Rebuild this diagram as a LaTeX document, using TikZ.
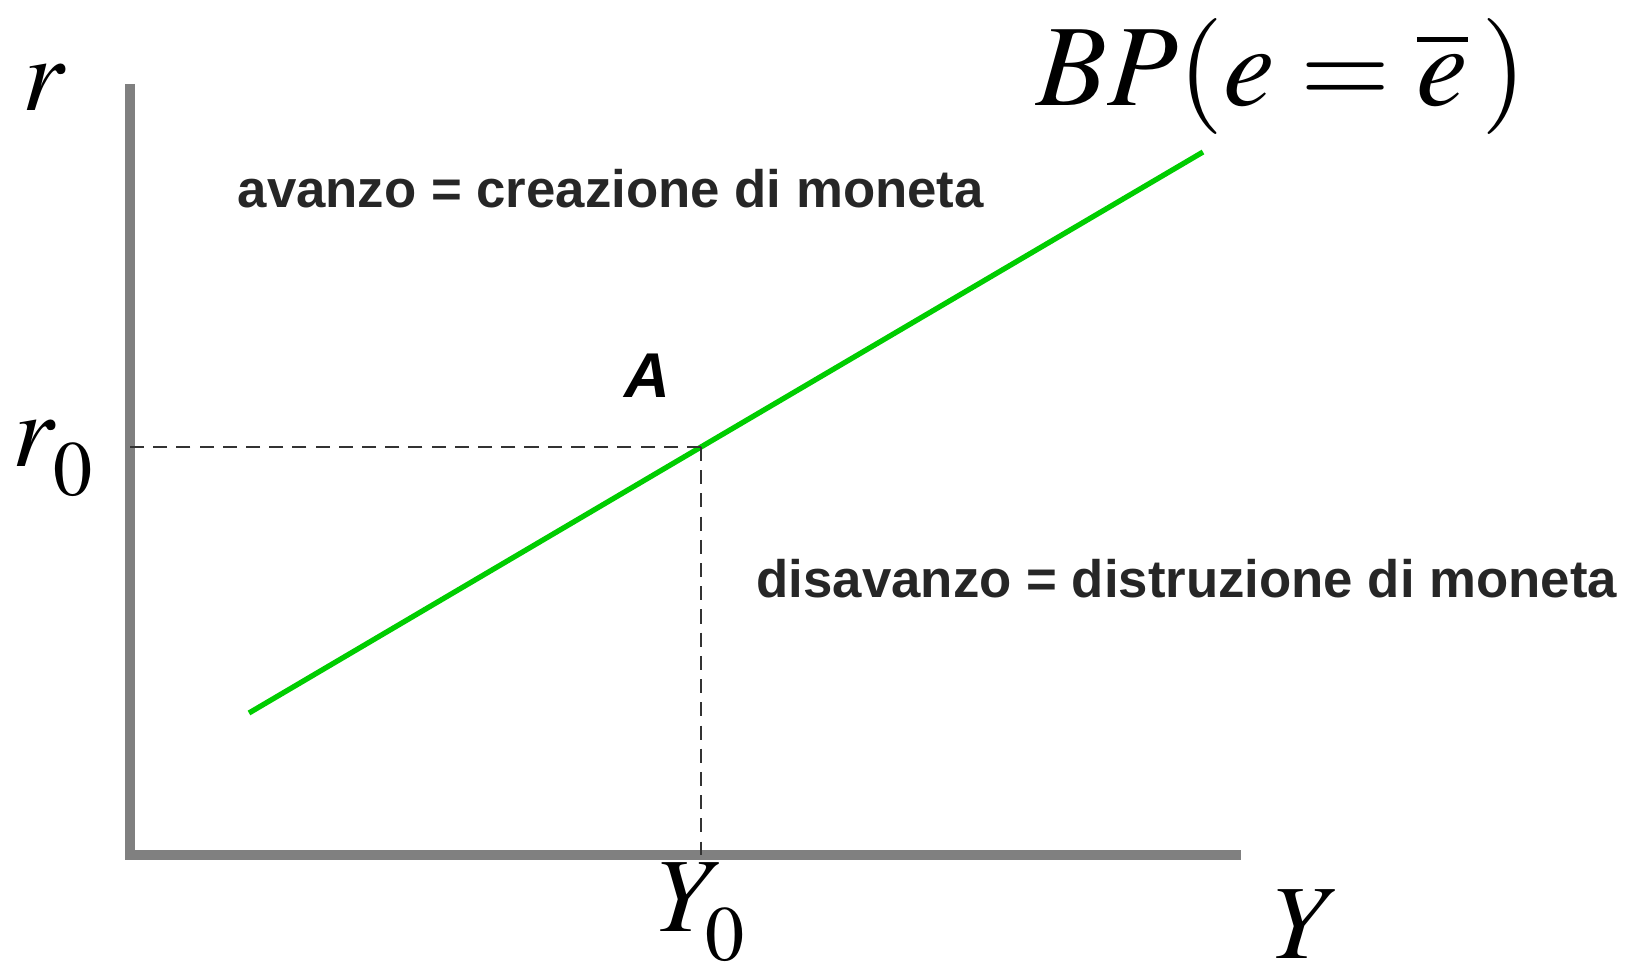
\documentclass[tikz,border=0pt]{standalone}
\usepackage{mathptmx}
\usepackage[no-math]{fontspec}
\setsansfont{Liberation Sans}
\usepackage{tikz}

\definecolor{axisgray}{RGB}{128,128,128}
\definecolor{bpgreen}{RGB}{0,205,0}
% subscript set a little lower than the default
\newcommand{\lowsub}[1]{\raisebox{-3.5pt}{$\scriptstyle #1$}}

\begin{document}
\begin{tikzpicture}[x=0.01cm, y=-0.01cm,
		axis/.style={line width=2.9pt, axisgray},
		guide/.style={line width=0.8pt, black!80, dash pattern=on 4pt off 2.6pt},
		bpline/.style={line width=1.5pt, bpgreen},
		mathlbl/.style={inner sep=0pt, font=\fontsize{30}{36}\selectfont},
		region/.style={inner sep=0pt, font=\sffamily\bfseries\fontsize{15}{18}\selectfont, black!85}]
		\useasboundingbox (0,0) rectangle (1629,976);
		% axes
		\coordinate (O) at (130,855);
		\coordinate (rtop) at (130,84);
		\coordinate (Yend) at (1241,855);
		\draw [axis] (rtop) -- (O) -- (Yend);
		% the BP schedule through A
		\coordinate (bpstart) at (249,713);
		\coordinate (A) at (701,447);
		\coordinate (bpend) at (1203,152);
		\draw [bpline] (bpstart) -- (A) -- (bpend);
		% guides from A to the axes
		\draw [guide] (A) -- (O |- A);
		\draw [guide] (A) -- (A |- O);
		% labels
		\node (rlab) [mathlbl, anchor=base] at (44,111) {$r$};
		\node (r0lab) [mathlbl, anchor=base west] at (12,467) {$r_{\lowsub{0}}$};
		\node (Y0lab) [mathlbl, anchor=base west] at (657,932) {$Y_{\lowsub{0}}$};
		\node (Ylab) [mathlbl, anchor=base west] at (1273,958) {$Y$};
		\node (bplab) [mathlbl, font=\fontsize{33}{40}\selectfont, anchor=base west] at (1036,106) {$BP(e=\overline{e}\,)$};
		\node (Alab) [inner sep=0pt, font=\sffamily\bfseries\itshape\fontsize{18}{22}\selectfont] at (647,376) {A};
		\node (surplus) [region, anchor=base west] at (237,208) {avanzo = creazione di moneta};
		\node (deficit) [region, anchor=base west] at (756,597) {disavanzo = distruzione di moneta};
	\end{tikzpicture}
\end{document}
